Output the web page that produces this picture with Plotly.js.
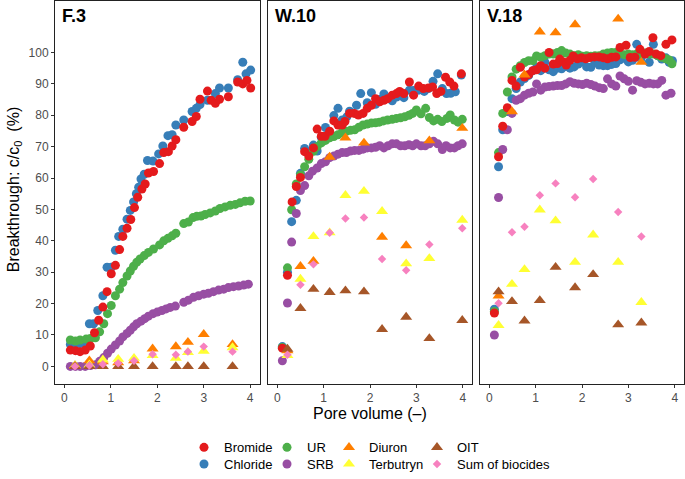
<!DOCTYPE html>
<html><head><meta charset="utf-8">
<script src="https://cdn.plot.ly/plotly-3.0.1.min.js"></script>
<style>html,body{margin:0;padding:0;background:#fff}#chart{width:685px;height:479px}</style>
</head><body><div id="chart"></div>
<script>
// ---------- Panel labels ----------
const panelNames = ['F.3', 'W.10', 'V.18'];
const xTicks = [0, 1, 2, 3, 4];
const yTicks = [0, 10, 20, 30, 40, 50, 60, 70, 80, 90, 100];

// ---------- F.3 ----------
const f3BromideX = [0.13,0.24,0.34,0.45,0.56,0.65,0.74,0.83,0.92,1.01,1.10,1.19,1.26,1.35,1.43,1.51,1.58,1.67,1.74,1.81,1.92,2.05,2.14,2.24,2.32,2.40,2.57,2.75,2.84,2.92,3.08,3.16,3.25,3.34,3.53,3.73,3.84,3.93,4.01];
const f3BromideY = [5.2,5.0,4.7,5.2,6.5,10.7,14.7,18.9,23.8,29.5,32.2,37.2,41.4,44.0,46.8,50.6,53.9,56.5,58.1,61.6,62.1,64.6,68.1,68.4,70.2,72.2,76.2,78.0,79.6,85.1,87.7,84.8,83.8,85.1,85.9,90.6,90.0,91.1,88.7];
const f3ChlorideX = [0.13,0.24,0.34,0.45,0.54,0.63,0.72,0.83,0.92,1.01,1.10,1.17,1.26,1.35,1.42,1.49,1.55,1.60,1.65,1.72,1.79,1.91,2.03,2.12,2.23,2.32,2.40,2.57,2.75,2.84,2.92,3.08,3.25,3.34,3.53,3.73,3.84,3.91,4.01];
const f3ChlorideY = [7.0,7.3,7.3,7.5,13.6,13.6,17.8,22.5,31.6,31.6,37.0,41.4,43.7,46.9,49.7,52.4,55.0,57.1,59.7,61.2,65.6,65.4,67.7,70.2,73.5,73.8,76.9,78.5,81.2,82.2,83.4,84.8,86.9,88.7,88.7,91.3,96.9,93.2,94.4];
const f3UrX = [0.13,0.24,0.34,0.47,0.56,0.67,0.76,0.85,0.93,1.01,1.10,1.19,1.26,1.35,1.42,1.49,1.56,1.63,1.72,1.81,1.92,2.05,2.14,2.23,2.32,2.40,2.57,2.67,2.77,2.85,2.94,3.03,3.14,3.25,3.35,3.46,3.57,3.68,3.78,3.89,4.00];
const f3UrY = [8.4,8.1,8.4,8.7,8.9,9.1,11.0,13.6,16.8,19.4,22.5,24.6,26.7,28.8,30.4,31.9,33.2,34.2,35.3,36.3,37.4,38.7,40.0,40.8,41.6,42.4,45.5,46.0,47.4,47.8,47.9,48.4,48.9,49.5,50.3,50.8,51.3,51.6,52.1,52.6,52.7];
const f3SrbX = [0.13,0.24,0.34,0.45,0.56,0.67,0.76,0.85,0.93,1.01,1.10,1.19,1.26,1.35,1.42,1.49,1.56,1.65,1.73,1.81,1.91,2.00,2.10,2.19,2.28,2.39,2.57,2.67,2.78,2.89,3.00,3.10,3.21,3.32,3.43,3.53,3.64,3.75,3.86,3.96];
const f3SrbY = [0.0,0.0,0.0,0.0,0.3,0.5,1.6,2.8,4.2,5.5,6.8,8.1,9.4,10.5,11.5,12.6,13.6,14.4,15.2,16.0,16.8,17.3,17.8,18.3,18.8,19.2,20.4,21.1,22.0,22.5,23.0,23.3,23.8,24.3,24.6,25.1,25.4,25.6,25.9,26.2];
const f3BiocideX = [0.23,0.54,0.83,1.16,1.50,1.90,2.40,2.66,3.00,3.62];
const f3DiuronY = [0.3,1.8,1.5,1.2,1.8,5.6,6.3,7.7,10.2,7.0];
const f3TerbutrynY = [0.2,0.5,2.1,2.3,2.6,3.5,2.6,4.5,4.9,6.0];
const f3OitY = [0.0,0.0,0.0,0.0,0.0,0.0,0.0,0.0,0.0,0.0];
const f3SumY = [0.0,0.3,0.7,1.0,1.8,3.9,3.7,4.7,6.3,4.7];

// ---------- W.10 ----------
const w10BromideX = [0.11,0.22,0.32,0.41,0.50,0.59,0.68,0.78,0.86,0.95,1.03,1.13,1.22,1.31,1.40,1.46,1.56,1.66,1.75,1.85,1.94,2.03,2.12,2.21,2.30,2.38,2.48,2.57,2.64,2.73,2.85,2.94,3.05,3.15,3.26,3.35,3.44,3.53,3.63,3.72,3.81,3.97];
const w10BromideY = [5.8,29.0,52.4,57.3,60.2,68.4,67.0,69.6,75.6,73.3,73.3,74.9,78.2,76.9,76.9,78.0,80.6,80.6,80.1,80.6,82.2,83.2,85.3,84.3,84.8,85.3,86.4,86.9,87.6,86.9,90.6,86.4,89.3,88.5,88.7,89.0,86.9,87.6,92.1,90.6,89.3,93.2];
const w10ChlorideX = [0.11,0.22,0.31,0.41,0.50,0.59,0.68,0.78,0.86,0.95,1.04,1.13,1.22,1.31,1.40,1.50,1.56,1.71,1.80,1.94,2.03,2.12,2.21,2.30,2.39,2.48,2.57,2.66,2.73,2.85,2.94,3.05,3.17,3.26,3.36,3.46,3.56,3.65,3.74,3.84,3.97];
const w10ChlorideY = [6.3,30.0,46.1,52.9,61.5,69.4,68.0,70.5,68.6,73.0,76.1,74.5,79.9,82.2,78.5,79.5,81.3,83.2,86.9,84.0,87.2,83.5,85.0,86.8,85.5,84.6,85.8,86.5,85.6,88.0,87.9,88.0,87.6,88.5,90.8,93.2,88.5,86.9,87.0,87.5,92.8];
const w10UrX = [0.11,0.22,0.31,0.41,0.50,0.59,0.68,0.78,0.86,0.95,1.04,1.13,1.22,1.31,1.40,1.49,1.58,1.67,1.76,1.85,1.94,2.03,2.12,2.20,2.29,2.38,2.48,2.57,2.66,2.75,2.84,2.92,3.00,3.10,3.20,3.28,3.37,3.46,3.55,3.66,3.73,3.82,3.90,3.99];
const w10UrY = [6.0,31.4,49.9,58.1,61.0,63.6,66.0,68.5,70.0,71.2,72.0,72.8,73.2,73.8,74.5,74.9,75.2,75.4,76.2,76.9,77.2,77.5,77.6,77.8,78.2,78.5,78.7,79.0,79.2,79.5,80.0,80.6,81.7,80.5,82.2,79.3,78.2,78.7,78.0,79.0,80.1,78.5,77.8,78.7];
const w10SrbX = [0.11,0.22,0.31,0.41,0.50,0.59,0.68,0.76,0.86,0.95,1.04,1.13,1.22,1.31,1.40,1.49,1.58,1.67,1.76,1.85,1.94,2.03,2.12,2.21,2.30,2.39,2.48,2.57,2.66,2.75,2.84,2.92,3.00,3.10,3.19,3.28,3.37,3.46,3.56,3.64,3.73,3.82,3.90,3.99];
const w10SrbY = [1.8,20.2,39.6,48.7,56.0,57.6,60.7,62.2,63.2,64.6,65.2,66.5,67.0,67.6,68.1,68.1,68.6,68.8,68.8,69.2,69.6,69.6,69.8,70.3,69.6,70.3,70.9,70.9,70.3,70.3,70.6,70.3,70.9,70.3,70.3,70.9,71.7,70.9,69.1,70.3,69.6,69.6,70.3,70.9];
const w10BiocideX = [0.22,0.50,0.78,1.13,1.47,1.87,2.26,2.78,3.28,3.99];
const w10DiuronY = [5.0,31.9,33.5,66.7,72.8,71.2,41.2,38.5,71.9,75.9];
const w10TerbutrynY = [3.5,27.8,41.4,42.6,54.5,55.8,49.4,32.7,34.4,46.6];
const w10OitY = [5.5,18.5,24.6,23.6,24.1,23.8,11.8,15.7,8.9,14.7];
const w10SumY = [3.7,26.0,32.5,42.6,47.1,47.4,34.2,30.6,38.8,44.0];

// ---------- V.18 ----------
const v18ChlorideX = [0.11,0.20,0.29,0.39,0.49,0.58,0.67,0.76,0.85,0.94,1.02,1.11,1.20,1.29,1.38,1.47,1.56,1.65,1.74,1.83,1.92,2.01,2.10,2.19,2.28,2.37,2.46,2.55,2.64,2.73,2.82,2.91,3.00,3.09,3.18,3.27,3.36,3.45,3.54,3.63,3.72,3.81,3.88,3.95];
const v18ChlorideY = [18.2,63.6,75.4,81.2,85.3,88.5,90.6,91.7,92.7,94.2,95.2,94.2,96.9,94.5,93.9,95.0,94.8,95.5,95.0,95.4,96.3,97.0,95.4,95.3,96.8,96.0,95.8,95.8,96.2,96.5,97.7,98.2,97.0,97.5,102.6,98.0,99.5,96.9,102.6,99.0,97.9,98.3,96.9,97.4];
const v18BromideX = [0.11,0.20,0.29,0.39,0.49,0.58,0.67,0.76,0.85,0.94,1.02,1.11,1.20,1.29,1.38,1.47,1.52,1.60,1.66,1.74,1.81,1.90,1.99,2.08,2.17,2.27,2.37,2.46,2.55,2.64,2.73,2.82,2.95,3.04,3.14,3.25,3.36,3.45,3.53,3.60,3.70,3.81,3.94];
const v18BromideY = [17.0,66.8,76.5,82.4,91.1,89.3,95.3,92.2,93.0,94.2,94.5,95.8,95.0,100.0,96.3,96.5,97.9,97.0,96.0,97.5,98.9,98.0,98.3,98.0,98.4,98.6,98.6,98.3,98.0,98.5,98.6,101.6,102.3,98.4,98.5,101.0,99.5,100.3,104.7,99.5,99.0,102.6,104.0];
const v18UrX = [0.11,0.20,0.29,0.39,0.49,0.58,0.67,0.76,0.85,0.94,1.02,1.11,1.20,1.29,1.38,1.47,1.56,1.65,1.74,1.83,1.92,2.01,2.10,2.19,2.28,2.37,2.46,2.55,2.64,2.73,2.82,2.91,3.00,3.09,3.18,3.27,3.36,3.45,3.54,3.63,3.72,3.81,3.88,3.94];
const v18UrY = [17.5,68.1,80.6,87.4,92.2,94.7,95.8,96.8,97.4,97.4,98.9,98.5,99.0,99.5,99.5,100.0,100.6,99.8,99.5,99.0,99.3,98.8,99.0,98.8,99.0,99.0,99.5,99.8,100.0,100.0,99.6,99.3,99.5,99.3,99.5,99.5,99.8,99.5,99.5,99.0,98.5,98.0,97.6,96.4];
const v18SrbX = [0.11,0.20,0.29,0.39,0.49,0.58,0.67,0.76,0.85,0.94,1.02,1.11,1.20,1.29,1.38,1.47,1.56,1.65,1.74,1.83,1.92,2.01,2.10,2.19,2.28,2.37,2.46,2.55,2.64,2.73,2.82,2.91,3.00,3.09,3.18,3.27,3.36,3.45,3.54,3.63,3.72,3.81,3.92];
const v18SrbY = [10.0,53.8,69.1,75.4,80.6,84.8,85.3,86.4,87.0,87.4,90.0,88.0,89.0,89.2,89.3,89.5,89.5,90.0,90.7,90.2,90.0,89.8,90.2,89.8,89.3,88.8,88.5,91.6,90.0,89.3,92.5,91.6,90.8,88.0,91.0,90.5,90.0,90.2,90.0,90.0,91.1,86.4,87.0];
const v18BiocideX = [0.20,0.49,0.76,1.09,1.43,1.85,2.24,2.78,3.28];
const v18DiuronY = [22.5,81.2,92.9,106.6,106.3,108.9,null,110.7,96.9];
const v18TerbutrynY = [13.1,26.2,30.9,49.9,46.4,33.2,41.9,33.2,20.4];
const v18OitY = [23.8,20.7,14.5,21.0,31.6,25.1,29.3,13.3,13.9];
const v18SumY = [20.1,42.7,44.5,54.5,58.3,53.9,59.7,49.2,41.4];

// ---------- Series styles ----------
const seriesNames = ['Bromide','Chloride','UR','SRB','Diuron','Terbutryn','OIT','Sum of biocides'];
const seriesColors = {
  'Bromide':'#E41A1C','Chloride':'#377EB8','UR':'#4DAF4A','SRB':'#984EA3',
  'Diuron':'#FF7F00','Terbutryn':'#FFFF33','OIT':'#A65628','Sum of biocides':'#F781BF'
};
const seriesSymbols = {
  'Bromide':'circle','Chloride':'circle','UR':'circle','SRB':'circle',
  'Diuron':'triangle-up','Terbutryn':'triangle-up','OIT':'triangle-up','Sum of biocides':'diamond'
};
const seriesSizes = {
  'Bromide':9,'Chloride':9,'UR':9,'SRB':9,'Diuron':10.5,'Terbutryn':10.5,'OIT':10.5,'Sum of biocides':6.5
};
const legendIds = {
  'Bromide':'legend','Chloride':'legend2','UR':'legend3','SRB':'legend4',
  'Diuron':'legend5','Terbutryn':'legend6','OIT':'legend7','Sum of biocides':'legend8'
};

const panelData = [
  {Chloride:[f3ChlorideX,f3ChlorideY], UR:[f3UrX,f3UrY], SRB:[f3SrbX,f3SrbY], Bromide:[f3BromideX,f3BromideY],
   Diuron:[f3BiocideX,f3DiuronY], Terbutryn:[f3BiocideX,f3TerbutrynY], OIT:[f3BiocideX,f3OitY], 'Sum of biocides':[f3BiocideX,f3SumY]},
  {Chloride:[w10ChlorideX,w10ChlorideY], UR:[w10UrX,w10UrY], SRB:[w10SrbX,w10SrbY], Bromide:[w10BromideX,w10BromideY],
   Diuron:[w10BiocideX,w10DiuronY], Terbutryn:[w10BiocideX,w10TerbutrynY], OIT:[w10BiocideX,w10OitY], 'Sum of biocides':[w10BiocideX,w10SumY]},
  {Chloride:[v18ChlorideX,v18ChlorideY], UR:[v18UrX,v18UrY], SRB:[v18SrbX,v18SrbY], Bromide:[v18BromideX,v18BromideY],
   Diuron:[v18BiocideX,v18DiuronY], Terbutryn:[v18BiocideX,v18TerbutrynY], OIT:[v18BiocideX,v18OitY], 'Sum of biocides':[v18BiocideX,v18SumY]}
];
const drawOrder = ['Chloride','UR','SRB','Bromide','Diuron','Terbutryn','OIT','Sum of biocides'];

const traces = [];
panelData.forEach((pd, i) => {
  const sfx = i === 0 ? '' : String(i + 1);
  drawOrder.forEach(name => {
    const d = pd[name];
    traces.push({
      type:'scatter', mode:'markers', name:name,
      x:d[0], y:d[1], xaxis:'x'+sfx, yaxis:'y'+sfx,
      marker:{color:seriesColors[name], symbol:seriesSymbols[name], size:seriesSizes[name], line:{width:0}},
      showlegend: i === 0, legend: legendIds[name], hoverinfo:'skip'
    });
  });
});

// ---------- Layout ----------
const W = 685, H = 479;
const font = 'Liberation Sans, Arial, sans-serif';
const panelsPx = [[55,259.5],[268,472],[480,684]];
const yTopPx = 1.5, yBotPx = 389.5;
const xRange = [-0.2, 4.2], yRange = [-5.55, 116.25];

const layout = {
  width:W, height:H, margin:{l:0,r:0,t:0,b:0},
  paper_bgcolor:'#fff', plot_bgcolor:'#fff',
  font:{family:font, size:12, color:'#000'},
  annotations:[], showlegend:true
};
panelsPx.forEach((p, i) => {
  const sfx = i === 0 ? '' : String(i + 1);
  layout['xaxis'+sfx] = {
    domain:[p[0]/W, p[1]/W], range:xRange, anchor:'y'+sfx,
    tickvals:xTicks, ticktext:xTicks.map(String), ticks:'outside', ticklen:3, tickwidth:1, tickcolor:'#333',
    tickfont:{family:font, size:12, color:'#4D4D4D'},
    showgrid:false, zeroline:false, showline:true, mirror:true, linecolor:'#222', linewidth:1
  };
  layout['yaxis'+sfx] = {
    domain:[1 - yBotPx/H, 1 - yTopPx/H], range:yRange, anchor:'x'+sfx,
    tickvals:yTicks, ticktext:yTicks.map(String),
    ticks: i === 0 ? 'outside' : '', ticklen:3, tickwidth:1, tickcolor:'#333',
    showticklabels: i === 0,
    tickfont:{family:font, size:12, color:'#4D4D4D'},
    showgrid:false, zeroline:false, showline:true, mirror:true, linecolor:'#222', linewidth:1
  };
  layout.annotations.push({
    text:'<b>'+panelNames[i]+'</b>', xref:'paper', yref:'paper',
    x:(p[0]+5)/W, y:1-4/H, xanchor:'left', yanchor:'top', showarrow:false,
    font:{family:font, size:18, color:'#000'}
  });
});
layout.annotations.push({
  text:'Pore volume (–)', xref:'paper', yref:'paper', x:((55+684)/2)/W, y:1-420/H,
  xanchor:'center', yanchor:'middle', showarrow:false, font:{family:font, size:16, color:'#000'}
});
layout.annotations.push({
  text:'Breakthrough: c/c<sub>0</sub>  (%)', xref:'paper', yref:'paper', x:14/W, y:1-193/H,
  xanchor:'center', yanchor:'middle', textangle:-90, showarrow:false, font:{family:font, size:16, color:'#000'}
});

// legends: one per entry, arranged in 4 columns x 2 rows
const legendCols = [205, 288, 350, 438];
const legendRows = [454, 471];
const legendGrid = {
  'Bromide':[0,0],'Chloride':[0,1],'UR':[1,0],'SRB':[1,1],
  'Diuron':[2,0],'Terbutryn':[2,1],'OIT':[3,0],'Sum of biocides':[3,1]
};
seriesNames.forEach(name => {
  const g = legendGrid[name];
  layout[legendIds[name]] = {
    x:(legendCols[g[0]] - 21)/W, y:1 - legendRows[g[1]]/H, xanchor:'left', yanchor:'middle',
    bgcolor:'rgba(0,0,0,0)', borderwidth:0, font:{family:font, size:13, color:'#000'},
    itemclick:false, itemdoubleclick:false
  };
});

Plotly.newPlot('chart', traces, layout, {staticPlot:true, displayModeBar:false});
</script></body></html>
